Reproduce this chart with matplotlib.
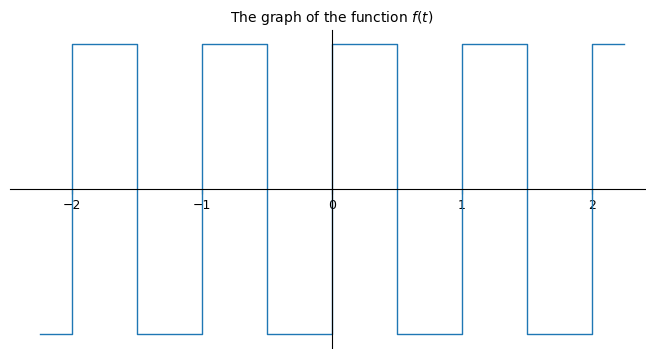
import numpy as np
import matplotlib
matplotlib.use("Agg")
import matplotlib.pyplot as plt

# square wave f(t), period 1: +1 on [k, k+0.5), -1 on [k+0.5, k+1)
edges = [-2.25, -2.0, -1.5, -1.0, -0.5, 0.0, 0.5, 1.0, 1.5, 2.0, 2.25]
values = [-1, 1, -1, 1, -1, 1, -1, 1, -1, 1]
xticks = [-2, -1, 0, 1, 2]

fig = plt.figure(figsize=(6.46, 3.49), dpi=100)
# axes run slightly past the right edge of the canvas
ax = fig.add_axes([10 / 646, 1 / 349, 644 / 646, 318 / 349])

ax.step(edges, values + [values[-1]], where="post", color="C0", linewidth=1.0)

ax.set_xlim(-2.477, 2.477)
ax.set_ylim(-1.093, 1.093)

# axes through the origin
ax.spines["left"].set_position("zero")
ax.spines["bottom"].set_position("zero")
ax.spines[["top", "right"]].set_visible(False)
ax.set_xticks(xticks)
ax.set_yticks([])
ax.tick_params(axis="x", labelsize=9)

ax.set_title("The graph of the function $f(t)$", fontsize=10)

fig.savefig("out.png", dpi=100)
